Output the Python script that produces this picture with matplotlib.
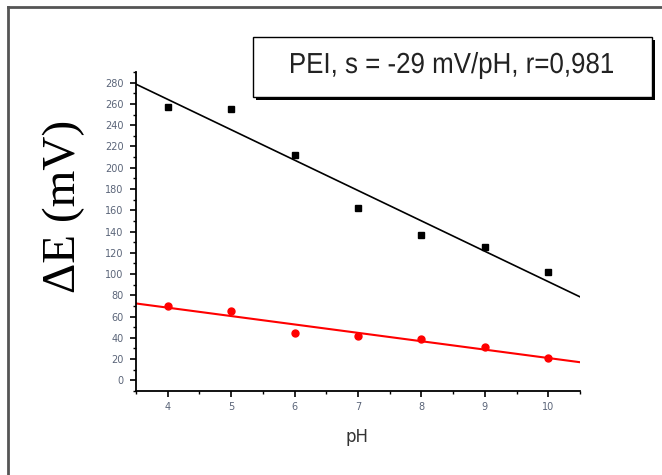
import numpy as np
import matplotlib.pyplot as plt
from matplotlib.patches import Rectangle, PathPatch
from matplotlib.lines import Line2D
from matplotlib.textpath import TextPath
from matplotlib.font_manager import FontProperties
from matplotlib.transforms import Affine2D, IdentityTransform
from matplotlib.ticker import MultipleLocator

# data
ph = [4, 5, 6, 7, 8, 9, 10]
de_black = [257, 255, 212, 162, 137, 125, 102]
de_red = [70, 65, 45, 42, 39, 31, 21]
box_text = 'PEI, s = -29 mV/pH, r=0,981'

W, H = 662, 475
fig = plt.figure(figsize=(W / 100, H / 100), dpi=100)
ax = fig.add_axes([0.2054, 0.1768, 0.6707, 0.6716])

# linear fits
xs = np.array([3.5, 10.5])
kb = np.polyfit(ph, de_black, 1)
kr = np.polyfit(ph, de_red, 1)
ax.plot(xs, np.polyval(kb, xs), color='black', lw=1.2)
ax.plot(xs, np.polyval(kr, xs), color='red', lw=1.5)
ax.plot(ph, de_black, 's', color='black', ms=4.5, lw=0)
ax.plot(ph, de_red, 'o', color='red', ms=5, lw=0)

ax.set_xlim(3.5, 10.5)
ax.set_ylim(-10, 290)
ax.spines['top'].set_visible(False)
ax.spines['right'].set_visible(False)
ax.spines['left'].set_linewidth(1.3)
ax.spines['bottom'].set_linewidth(1.3)
ax.xaxis.set_major_locator(MultipleLocator(1))
ax.xaxis.set_minor_locator(MultipleLocator(0.5))
ax.yaxis.set_major_locator(MultipleLocator(20))
ax.yaxis.set_minor_locator(MultipleLocator(10))
ax.set_xticks(ph)
ax.tick_params(which='major', direction='out', length=4, width=1.2,
               labelsize=7, labelcolor='#5a6478')
ax.tick_params(axis='y', which='major', pad=5)
ax.tick_params(axis='x', which='major', pad=4)
ax.tick_params(which='minor', direction='out', length=2.5, width=1)

fig.text(0.539, 0.08, 'pH', ha='center', va='center', fontsize=12,
         color='#333333')
fig.text(0.097, 0.565, 'ΔE (mV)', rotation=90, ha='center', va='center',
         fontsize=34, family=['Liberation Serif', 'DejaVu Serif'])

# text box with shadow
fig.patches.append(Rectangle((256 / W, 1 - 100 / H), 399 / W, 60 / H,
                             transform=fig.transFigure, facecolor='black',
                             edgecolor='none', zorder=1))
fig.patches.append(Rectangle((253 / W, 1 - 97 / H), 399 / W, 60 / H,
                             transform=fig.transFigure, facecolor='white',
                             edgecolor='black', lw=1, zorder=2))

# narrow font: squeeze the text path horizontally (pixel units)
tp = TextPath((0, 0), box_text, size=29,
              prop=FontProperties(family='Liberation Sans'))
bb = tp.get_extents()
sx = 322 / bb.width
cx, cy = 452, H - 67
tr = Affine2D().translate(-bb.x0 - bb.width / 2, -(bb.y0 + bb.y1) / 2 + 1.5) \
    .scale(sx, 1).translate(cx, cy)
fig.patches.append(PathPatch(tr.transform_path(tp), transform=IdentityTransform(),
                             facecolor='#222222', edgecolor='none', zorder=3))

# outer frame (top and left)
fig.lines.append(Line2D([8 / W, 1], [1 - 7 / H, 1 - 7 / H],
                        transform=fig.transFigure, color='#555555', lw=2))
fig.lines.append(Line2D([8 / W, 8 / W], [0, 1 - 7 / H],
                        transform=fig.transFigure, color='#555555', lw=2))

fig.savefig('out.png', dpi=100)
